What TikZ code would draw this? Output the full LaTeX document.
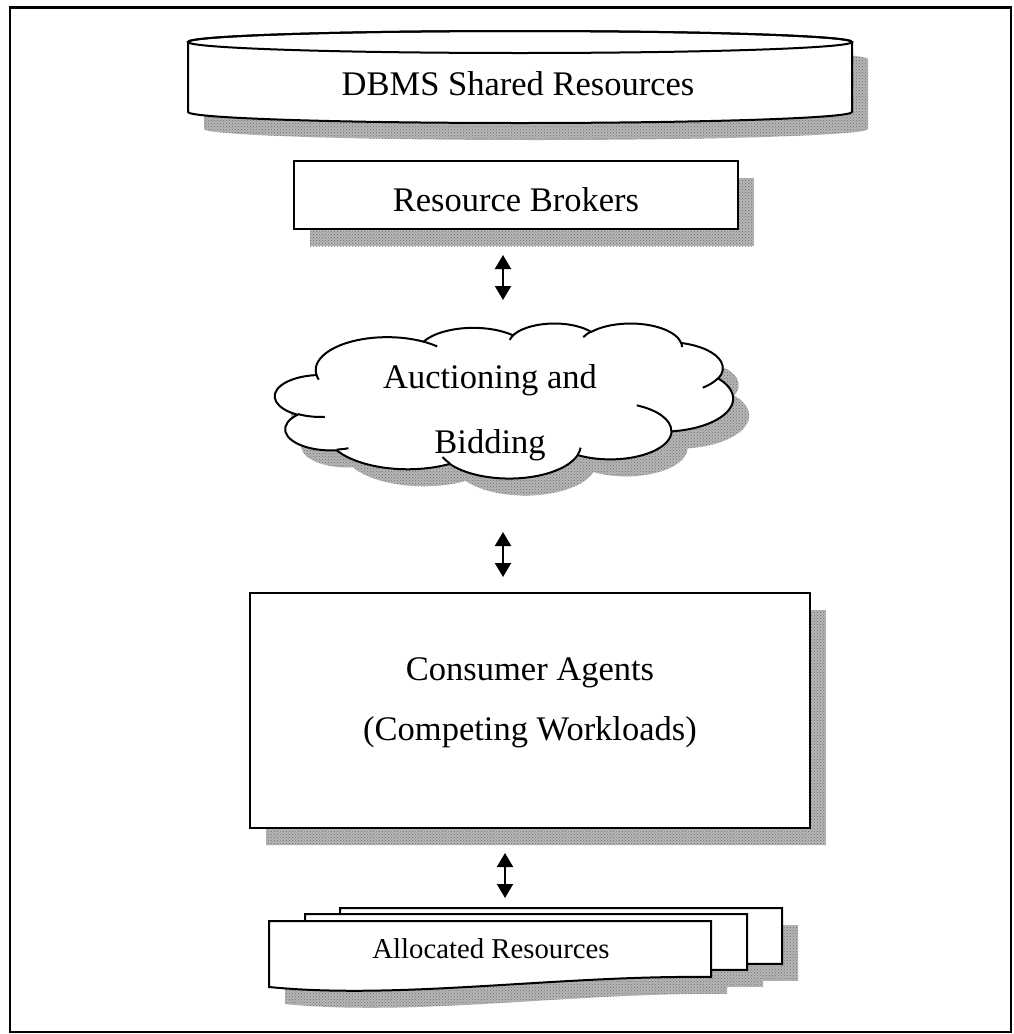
\documentclass[tikz,border=0pt]{standalone}
\usepackage{fontspec}
\setmainfont{Liberation Serif}
\usetikzlibrary{arrows.meta,calc,patterns}
\definecolor{shade}{RGB}{182,182,182}
\definecolor{speck}{RGB}{110,110,110}
\tikzset{
  outline/.style={draw=black, line width=2pt, fill=white},
  shadowfill/.style={fill=shade, draw=none, postaction={pattern=crosshatch dots, pattern color=speck}},
  biglabel/.style={font=\fontsize{34.5}{40}\selectfont, inner sep=0pt, anchor=base},
  smalllabel/.style={font=\fontsize{28.75}{33}\selectfont, inner sep=0pt, anchor=base},
  dblarrow/.style={line width=2pt, {Triangle[length=14pt,width=16pt]}-{Triangle[length=14pt,width=16pt]}},
}
\newcommand\cloudoutline{(39.00,143.70)
 arc[start angle=-187.75, end angle=-59.66, x radius=67.53, y radius=91.90]
 arc[start angle=-151.98, end angle=-45.49, x radius=53.33, y radius=72.67]
 arc[start angle=-153.47, end angle=-37.35, x radius=43.65, y radius=59.45]
 arc[start angle=-139.76, end angle=-10.20, x radius=48.57, y radius=65.95]
 arc[start angle=-74.80, end angle=23.26, x radius=53.33, y radius=72.73]
 arc[start angle=-37.54, end angle=81.86, x radius=67.75, y radius=92.20]
 arc[start angle=0.46, end angle=122.0, x radius=57.85, y radius=78.67]
 arc[start angle=16.90, end angle=146.15, x radius=67.52, y radius=92.15]
 arc[start angle=59.08, end angle=150.09, x radius=77.20, y radius=105.43]
 arc[start angle=83.29, end angle=223.04, x radius=43.60, y radius=59.18]
 arc[start angle=120.22, end angle=264.14, x radius=43.45, y radius=59.45]
 -- cycle}
\newcommand\drumbody{(188,42) -- (188,112)
 arc[start angle=180, end angle=0, x radius=332, y radius=11]
 -- (852,42)
 arc[start angle=0, end angle=-180, x radius=332, y radius=11] -- cycle}
\newcommand\sheetpath{(269,921) -- (711,921) -- (711,977)
 .. controls (560,975) and (400,1000) .. (269,987) -- cycle}
\begin{document}
\begin{tikzpicture}[x=1pt,y=-1pt]
\useasboundingbox (0,0) rectangle (1013,1034);
\fill[white] (0,0) rectangle (1013,1034);
% frame
\draw[line width=2.5pt] (10,7.5) rectangle (1011,1032);

% DBMS drum
\begin{scope}[shift={(16,17)}]
  \path[shadowfill] \drumbody;
\end{scope}
\draw[outline] \drumbody;
\draw[line width=2pt] (520,42) ellipse [x radius=332, y radius=11];
\node[minimum width=664pt, minimum height=92pt, inner sep=0pt] (dbms) at (520,77) {};
\node[biglabel] (dbmstext) at (518,95) {DBMS Shared Resources};

% Resource brokers
\path[shadowfill] (310,178) rectangle (754,246);
\node[outline, minimum width=444pt, minimum height=68pt, inner sep=0pt] (brokers) at (516,195) {};
\node[biglabel] (brokerstext) at (516,211) {Resource Brokers};

% arrow 1
\coordinate (a1s) at (503,255);
\coordinate (a1e) at (503,300);
\draw[dblarrow] (a1s) -- (a1e);

% cloud
\begin{scope}[shift={(291,340)}, xscale=458/432, yscale=155/432]
  \path[shadowfill] \cloudoutline;
\end{scope}
\begin{scope}[shift={(275,323)}, xscale=458/432, yscale=155/432]
  \draw[outline] \cloudoutline;
  \draw[line width=2pt]
   (46.93,261.77) arc[start angle=85.54, end angle=120.36, x radius=43.45, y radius=59.45]
   (69.28,348.99) arc[start angle=68.23, end angle=83.31, x radius=43.60, y radius=59.18]
   (164.78,390.90) arc[start angle=146.15, end angle=158.47, x radius=67.52, y radius=92.15]
   (288.27,347.51) arc[start angle=4.73, end angle=16.90, x radius=67.52, y radius=92.15]
   (341.29,229.54) arc[start angle=-64.03, end angle=0.46, x radius=57.85, y radius=78.67]
   (417.98,153.54) arc[start angle=23.21, end angle=49.64, x radius=53.33, y radius=72.73]
   (383.24,54.26) arc[start angle=-10.21, end angle=0.82, x radius=48.57, y radius=65.95]
   (290.78,39.52) arc[start angle=-156.30, end angle=-139.76, x radius=48.57, y radius=65.95]
   (221.41,47.20) arc[start angle=-167.72, end angle=-153.47, x radius=43.65, y radius=59.45]
   (140.00,51.92) arc[start angle=-59.66, end angle=-45.74, x radius=67.53, y radius=91.90]
   (41.27,157.89) arc[start angle=163.19, end angle=172.25, x radius=67.53, y radius=91.90];
\end{scope}
\node[minimum width=458pt, minimum height=155pt, inner sep=0pt] (cloud) at (504,400) {};
\node[biglabel] (cloudtext1) at (490,388) {Auctioning and};
\node[biglabel] (cloudtext2) at (490,453) {Bidding};

% arrow 2
\coordinate (a2s) at (503,532);
\coordinate (a2e) at (503,577);
\draw[dblarrow] (a2s) -- (a2e);

% consumer agents
\path[shadowfill] (266,610) rectangle (826,845);
\node[outline, minimum width=560pt, minimum height=235pt, inner sep=0pt] (consumer) at (530,710.5) {};
\node[biglabel] (constext1) at (530,680) {Consumer Agents};
\node[biglabel] (constext2) at (530,740) {(Competing Workloads)};

% arrow 3
\coordinate (a3s) at (505,853);
\coordinate (a3e) at (505,898);
\draw[dblarrow] (a3s) -- (a3e);

% allocated resources (stack of documents)
\foreach \dx/\dy in {71/-13, 36/-7, 0/0}{
  \begin{scope}[shift={(\dx+16,\dy+17)}]
    \path[shadowfill] \sheetpath;
  \end{scope}
}
\foreach \dx/\dy in {71/-13, 36/-7, 0/0}{
  \begin{scope}[shift={(\dx,\dy)}]
    \draw[outline] \sheetpath;
  \end{scope}
}
\node[minimum width=442pt, minimum height=66pt, inner sep=0pt] (alloc) at (490,954) {};
\node[smalllabel] (alloctext) at (491,958) {Allocated Resources};
\end{tikzpicture}
\end{document}
